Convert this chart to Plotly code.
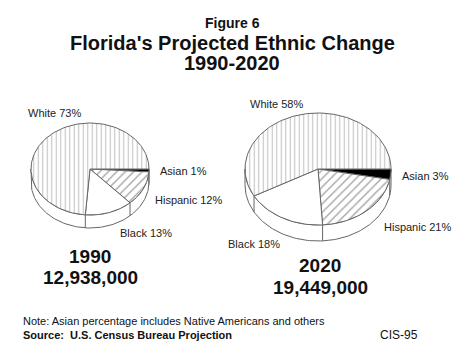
import numpy as np
import plotly.graph_objects as go

# ---- data ----
categories = ["Asian", "Hispanic", "Black", "White"]
share_1990 = [1, 12, 13, 73]
share_2020 = [3, 21, 18, 58]
years = ["1990", "2020"]
totals = ["12,938,000", "19,449,000"]

# ---- styles ----
FONT = "Liberation Sans, Arial, sans-serif"
EDGE = "#666"
slice_style = {
    "Asian": dict(fillcolor="black"),
    "Hispanic": dict(fillcolor="white",
                     fillpattern=dict(shape="/", fgcolor="#444", bgcolor="white", size=6, solidity=0.22)),
    "Black": dict(fillcolor="white"),
    "White": dict(fillcolor="white",
                  fillpattern=dict(shape="|", fgcolor="#888", bgcolor="white", size=4.5, solidity=0.25)),
}

# pie geometry (pixel space)
pies = [
    dict(cx=90, cy=169, rx=59, ry=46, depth=13, values=share_1990),
    dict(cx=318, cy=169, rx=73, ry=56, depth=16, values=share_2020),
]

fig = go.Figure()


def ell(p, th, dy=0.0):
    return p["cx"] + p["rx"] * np.cos(th), p["cy"] + p["ry"] * np.sin(th) + dy


for p in pies:
    vals = np.array(p["values"], dtype=float)
    frac = vals / vals.sum()
    bounds = np.concatenate([[0], np.cumsum(frac)]) * 2 * np.pi
    # side rim (front half, angles 0..pi, y downward)
    th = np.linspace(0, np.pi, 120)
    xt, yt = ell(p, th)
    xb, yb = ell(p, th[::-1], p["depth"])
    fig.add_trace(go.Scatter(x=np.concatenate([xt, xb, [xt[0]]]),
                             y=np.concatenate([yt, yb, [yt[0]]]),
                             mode="lines", fill="toself", fillcolor="white",
                             line=dict(color=EDGE, width=1), hoverinfo="skip",
                             showlegend=False))
    # vertical edges on rim at slice boundaries in front half
    for b in bounds[1:-1]:
        if 0 < b < np.pi:
            x0, y0 = ell(p, b)
            fig.add_trace(go.Scatter(x=[x0, x0], y=[y0, y0 + p["depth"]], mode="lines",
                                     line=dict(color=EDGE, width=1), hoverinfo="skip",
                                     showlegend=False))
    # top face wedges
    for i, cat in enumerate(categories):
        a0, a1 = bounds[i], bounds[i + 1]
        n = max(int((a1 - a0) / (2 * np.pi) * 200), 4)
        th = np.linspace(a0, a1, n)
        xs, ys = ell(p, th)
        xs = np.concatenate([[p["cx"]], xs, [p["cx"]]])
        ys = np.concatenate([[p["cy"]], ys, [p["cy"]]])
        fig.add_trace(go.Scatter(x=xs, y=ys, mode="lines", fill="toself",
                                 line=dict(color=EDGE, width=1), hoverinfo="skip",
                                 showlegend=False, name=cat, **slice_style[cat]))

# ---- slice labels ----
label_pos = [
    [(158, 171), (153, 200), (118, 233), (26, 113)],
    [(400, 176), (382, 227), (226, 244), (248, 104)],
]
for k, vals in enumerate([share_1990, share_2020]):
    for (x, y), cat, v in zip(label_pos[k], categories, vals):
        fig.add_annotation(x=x, y=y, xref="x", yref="y", text=f"{cat} {v}%",
                           showarrow=False, xanchor="left", yanchor="middle",
                           font=dict(family=FONT, size=11, color="#222"))

# ---- year / total labels ----
year_pos = [(90, 256, 277), (320, 265, 287)]
for (x, y1, y2), yr, tot in zip(year_pos, years, totals):
    fig.add_annotation(x=x, y=y1, xref="x", yref="y", text=f"<b>{yr}</b>", showarrow=False,
                       xanchor="center", yanchor="middle",
                       font=dict(family=FONT, size=19, color="#111"))
    fig.add_annotation(x=x, y=y2, xref="x", yref="y", text=f"<b>{tot}</b>", showarrow=False,
                       xanchor="center", yanchor="middle",
                       font=dict(family=FONT, size=19, color="#111"))

# ---- titles ----
fig.add_annotation(x=232, y=23, xref="x", yref="y", text="<b>Figure 6</b>", showarrow=False,
                   xanchor="center", yanchor="middle", font=dict(family=FONT, size=14, color="#111"))
fig.add_annotation(x=232, y=43, xref="x", yref="y", text="<b>Florida's Projected Ethnic Change</b>",
                   showarrow=False, xanchor="center", yanchor="middle",
                   font=dict(family=FONT, size=20, color="#111"))
fig.add_annotation(x=232, y=63, xref="x", yref="y", text="<b>1990-2020</b>", showarrow=False,
                   xanchor="center", yanchor="middle", font=dict(family=FONT, size=20, color="#111"))

# ---- footnotes ----
fig.add_annotation(x=21, y=321, xref="x", yref="y",
                   text="Note: Asian percentage includes Native Americans and others",
                   showarrow=False, xanchor="left", yanchor="middle",
                   font=dict(family=FONT, size=11, color="#111"))
fig.add_annotation(x=21, y=335, xref="x", yref="y",
                   text="<b>Source:  U.S. Census Bureau Projection</b>",
                   showarrow=False, xanchor="left", yanchor="middle",
                   font=dict(family=FONT, size=11, color="#111"))
fig.add_annotation(x=378, y=335, xref="x", yref="y", text="CIS-95",
                   showarrow=False, xanchor="left", yanchor="middle",
                   font=dict(family=FONT, size=12, color="#111"))

fig.update_layout(
    width=468, height=350, autosize=False,
    margin=dict(l=0, r=0, t=0, b=0),
    paper_bgcolor="white", plot_bgcolor="white",
    xaxis=dict(range=[0, 468], visible=False, fixedrange=True),
    yaxis=dict(range=[350, 0], visible=False, fixedrange=True),
    showlegend=False,
)

fig.write_html("out.html")
